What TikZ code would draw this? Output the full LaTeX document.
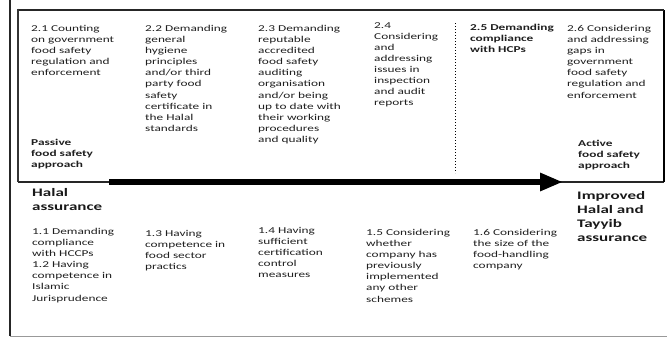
\documentclass[tikz,border=0pt]{standalone}
\usepackage{fontspec}
\setmainfont{Carlito}[FakeStretch=1.48]
\usetikzlibrary{arrows.meta}
\tikzset{
  txt/.style={anchor=north west, inner sep=0pt, align=left,
    font=\fontsize{9}{11.1}\selectfont, text=black!88,
    execute at begin node={\rule{0pt}{7pt}}},
  btxt/.style={txt, font=\fontsize{9}{11.1}\selectfont\bfseries},
  bigtxt/.style={anchor=north west, inner sep=0pt, align=left,
    font=\fontsize{11.5}{14.2}\selectfont\bfseries, text=black!90,
    execute at begin node={\rule{0pt}{9pt}}},
  mainarrow/.style={line width=6pt, -{Triangle[length=23pt,width=17pt]}},
}
\begin{document}
\begin{tikzpicture}[x=1pt,y=-1pt]
\useasboundingbox (0,0) rectangle (667,338);
% outer frame
\draw[line width=2pt, black!85] (10,0) -- (10,336);
\draw[line width=1pt, black!40] (10,336) -- (667,336);
% inner box
\draw[line width=1.3pt, black!85] (18,182) -- (664,182);
\draw[line width=1.3pt] (664,10) -- (664,182);
\draw[line width=2.6pt, black!85] (18,10) -- (664,10);
\draw[line width=2.6pt, black!80] (18,8.7) -- (18,182);
% dotted divider
\coordinate (dtop) at (455,23);
\coordinate (dbot) at (455,173);
\draw[dotted, line width=1pt] (dtop) -- (dbot);
% main arrow
\coordinate (arrS) at (109,182);
\coordinate (arrE) at (563,182);
\draw[mainarrow] (arrS) -- (arrE);
% top row
\node[txt] (t21) at (31,25) {2.1 Counting\\on government\\food safety\\regulation and\\enforcement};
\node[txt] (t22) at (145,25) {2.2 Demanding\\general\\hygiene\\principles\\and/or third\\party food\\safety\\certificate in\\the Halal\\standards};
\node[txt] (t23) at (258,25) {2.3 Demanding\\reputable\\accredited\\food safety\\auditing\\organisation\\and/or being\\up to date with\\their working\\procedures\\and quality};
\node[txt] (t24) at (374,22) {2.4\\Considering\\and\\addressing\\issues in\\inspection\\and audit\\reports};
\node[btxt] (t25) at (470,24) {2.5 Demanding\\compliance\\with HCPs};
\node[txt] (t26) at (567,25) {2.6 Considering\\and addressing\\gaps in\\government\\food safety\\regulation and\\enforcement};
\node[btxt] (passive) at (31,139) {Passive\\food safety\\approach};
\node[btxt] (active) at (578,140) {Active\\food safety\\approach};
% bottom
\node[bigtxt] (halal) at (32,188) {Halal\\assurance};
\node[bigtxt] (improved) at (577,191) {Improved\\Halal and\\Tayyib\\assurance};
\node[txt] (b11) at (32,228) {1.1 Demanding\\compliance\\with HCCPs\\1.2 Having\\competence in\\Islamic\\Jurisprudence};
\node[txt] (b13) at (145,230) {1.3 Having\\competence in\\food sector\\practics};
\node[txt] (b14) at (258,227) {1.4 Having\\sufficient\\certification\\control\\measures};
\node[txt] (b15) at (366,229) {1.5 Considering\\whether\\company has\\previously\\implemented\\any other\\schemes};
\node[txt] (b16) at (473,229) {1.6 Considering\\the size of the\\food-handling\\company};
\end{tikzpicture}
\end{document}
